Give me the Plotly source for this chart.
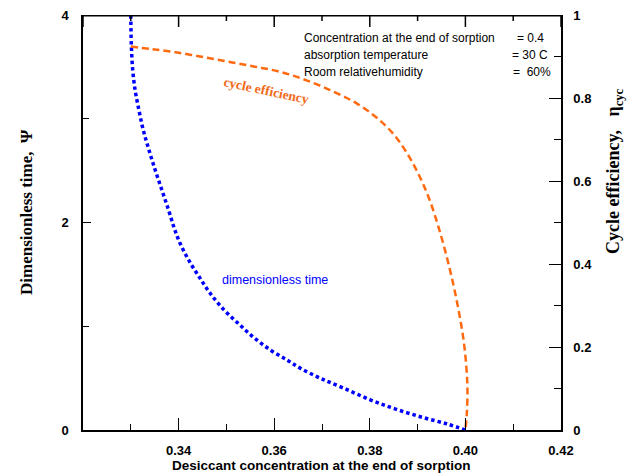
import plotly.graph_objects as go

# ---- data ----
time_x = [0.3300, 0.3301, 0.3304, 0.3309, 0.3317, 0.3326, 0.3338, 0.3351, 0.3365, 0.3379,
          0.3391, 0.3403, 0.3423, 0.3445, 0.3466, 0.3494, 0.3526, 0.3557, 0.3592, 0.3627,
          0.3655, 0.3697, 0.3746, 0.3802, 0.3854, 0.3910, 0.3962, 0.4000]
time_psi = [4.00, 3.727, 3.47, 3.277, 3.084, 2.892, 2.699, 2.506, 2.313, 2.12,
            1.944, 1.80, 1.622, 1.462, 1.318, 1.163, 1.022, 0.893, 0.771, 0.675,
            0.594, 0.498, 0.402, 0.289, 0.202, 0.122, 0.058, 0.0]

eff_x = [0.3300, 0.3341, 0.3389, 0.3445, 0.3501, 0.3557, 0.3613, 0.3669, 0.3725,
         0.3774, 0.3816, 0.3851, 0.3879, 0.3903, 0.3924, 0.3945, 0.3966, 0.3983, 0.3997,
         0.4004, 0.4003, 0.4000]
eff_eta = [0.924, 0.918, 0.911, 0.900, 0.888, 0.876, 0.863, 0.842, 0.815,
           0.786, 0.751, 0.711, 0.665, 0.614, 0.558, 0.484, 0.394, 0.305, 0.209,
           0.112, 0.040, 0.0]

x_range = [0.32, 0.42]
psi_range = [0, 4]
x_ticks = [0.32, 0.34, 0.36, 0.38, 0.40, 0.42]
x_minor_ticks = [0.33, 0.35, 0.37, 0.39, 0.41]
x_ticklabels = ["", "0.34", "0.36", "0.38", "0.40", "0.42"]
psi_ticks = [0, 2, 4]
eta_ticks = [0, 0.2, 0.4, 0.6, 0.8, 1.0]
eta_ticklabels = ["0", "0.2", "0.4", "0.6", "0.8", "1"]

info_left = ["Concentration at the end of sorption", "absorption temperature", "Room relativehumidity"]
info_right = ["= 0.4", "= 30 C", "=  60%"]

# ---- layout geometry (page pixels); page body has an 8px offset ----
OFF = 8
W, H = 638, 473
L, R, T, B = 83, 561, 15, 430

def px(x):
    return (x - L) / (R - L)

def py(y):
    return (B - y) / (B - T)

SANS = "Liberation Sans, Arial, sans-serif"
SERIF = "Liberation Serif, Times New Roman, serif"

fig = go.Figure()
fig.add_trace(go.Scatter(x=time_x, y=time_psi, mode="lines", yaxis="y",
                         line=dict(color="#0000FF", width=3.5, dash="3.5px,3px", shape="spline"),
                         showlegend=False, hoverinfo="skip", cliponaxis=False))
fig.add_trace(go.Scatter(x=eff_x, y=eff_eta, mode="lines", yaxis="y2",
                         line=dict(color="#FF6A10", width=2.5, dash="7px,4px", shape="spline"),
                         showlegend=False, hoverinfo="skip", cliponaxis=False))

# top frame edge with its inward ticks, drawn along the top of the psi axis
top = psi_range[1]
unit = (psi_range[1] - psi_range[0]) / (B - T)   # data units per pixel
fx, fy = [x_range[0], x_range[1], None], [top, top, None]
for t in x_ticks:
    fx += [t, t, None]
    fy += [top, top - 12 * unit, None]
for t in x_minor_ticks:
    fx += [t, t, None]
    fy += [top, top - 6 * unit, None]
fig.add_trace(go.Scatter(x=fx, y=fy, mode="lines", yaxis="y",
                         line=dict(color="black", width=1.5), connectgaps=False,
                         showlegend=False, hoverinfo="skip"))
# thicker copy of the frame edge so the part inside the plot clip stays visible
fig.add_trace(go.Scatter(x=x_range, y=[top, top], mode="lines", yaxis="y",
                         line=dict(color="black", width=3),
                         showlegend=False, hoverinfo="skip"))

axis_common = dict(showgrid=False, zeroline=False, showline=True, linecolor="black",
                   linewidth=1.5, ticks="inside", tickcolor="black", automargin=False,
                   ticklabeloverflow="allow")
x_minor = dict(dtick=0.01, tick0=0.32, ticks="inside", ticklen=6, tickcolor="black", tickwidth=1.2)

fig.update_layout(
    width=W - OFF, height=H - OFF,
    margin=dict(l=L - OFF, r=W - R, t=T - OFF, b=H - B, pad=0, autoexpand=False),
    paper_bgcolor="white", plot_bgcolor="white",
    xaxis=dict(**axis_common, range=x_range, tickvals=x_ticks,
               ticktext=["<b>%s</b>" % t for t in x_ticklabels],
               ticklen=12, tickwidth=1.2, minor=x_minor,
               tickfont=dict(family=SANS, size=13, color="black"), ticklabelstandoff=8),
    yaxis=dict(**axis_common, range=psi_range, tickvals=psi_ticks,
               ticktext=["<b>%d</b>" % t for t in psi_ticks],
               ticklen=8, tickwidth=1.2,
               minor=dict(dtick=1, tick0=0, ticks="inside", ticklen=6, tickcolor="black", tickwidth=1.2),
               tickfont=dict(family=SANS, size=13, color="black"), ticklabelstandoff=10),
    yaxis2=dict(**axis_common, range=[0, 1], overlaying="y", side="right",
                tickvals=eta_ticks, ticktext=["<b>%s</b>" % t for t in eta_ticklabels],
                ticklen=12, tickwidth=1.2,
                minor=dict(dtick=0.1, tick0=0, ticks="inside", ticklen=7, tickcolor="black", tickwidth=1.2),
                tickfont=dict(family=SANS, size=13, color="black"), ticklabelstandoff=8),
)

ann = []
# axis titles
ann.append(dict(x=px(321), y=py(465), xref="paper", yref="paper",
                text="<b>Desiccant concentration at the end of sorption</b>",
                showarrow=False, font=dict(family=SANS, size=13.5, color="black"),
                xanchor="center", yanchor="middle"))
ann.append(dict(x=px(26), y=py(212), xref="paper", yref="paper",
                text="<b>Dimensionless time,  Ψ</b>", textangle=-90,
                showarrow=False, font=dict(family=SERIF, size=17, color="black"),
                xanchor="center", yanchor="middle"))
ann.append(dict(x=px(615), y=py(171), xref="paper", yref="paper",
                text="<b>Cycle efficiency,   η<sub>cyc</sub></b>", textangle=-90,
                showarrow=False, font=dict(family=SERIF, size=18, color="black"),
                xanchor="center", yanchor="middle"))
# curve labels
ann.append(dict(x=px(266), y=py(90), xref="paper", yref="paper",
                text="<b>cycle efficiency</b>", textangle=12,
                showarrow=False, font=dict(family=SERIF, size=13.5, color="#F26A1B"),
                xanchor="center", yanchor="middle"))
ann.append(dict(x=px(220), y=py(280), xref="paper", yref="paper",
                text="dimensionless time",
                showarrow=False, font=dict(family=SANS, size=12.5, color="#0000FF"),
                xanchor="left", yanchor="middle"))
# info block
line_y = [38, 55, 72]
right_x = [546, 550, 553]
for i in range(3):
    ann.append(dict(x=px(302), y=py(line_y[i]), xref="paper", yref="paper",
                    text=info_left[i], showarrow=False,
                    font=dict(family=SANS, size=12, color="black"),
                    xanchor="left", yanchor="middle"))
    ann.append(dict(x=px(right_x[i]), y=py(line_y[i]), xref="paper", yref="paper",
                    text=info_right[i], showarrow=False,
                    font=dict(family=SANS, size=12, color="black"),
                    xanchor="right", yanchor="middle"))
fig.update_layout(annotations=ann)

fig.write_html("out.html")
